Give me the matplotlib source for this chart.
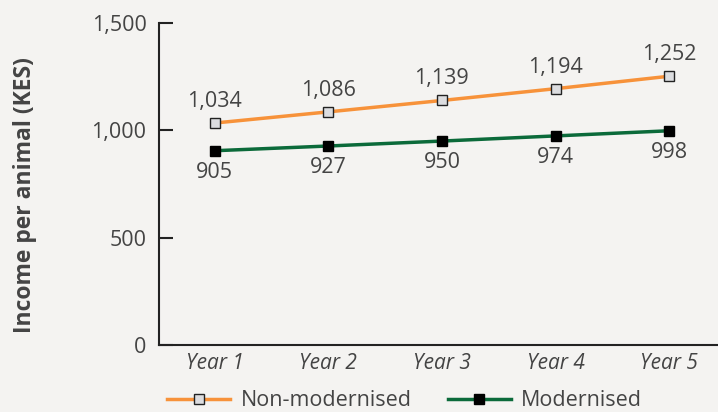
import matplotlib.pyplot as plt
from matplotlib.ticker import FuncFormatter

years = ["Year 1", "Year 2", "Year 3", "Year 4", "Year 5"]
non_modernised = [1034, 1086, 1139, 1194, 1252]
modernised = [905, 927, 950, 974, 998]

bg = "#f4f3f1"
txt = "#444444"
orange = "#f7923a"
green = "#0b6a3a"

plt.rcParams['font.family'] = ['Open Sans', 'DejaVu Sans']

fig = plt.figure(figsize=(7.18, 4.12), dpi=100, facecolor=bg)
ax = fig.add_axes([159 / 718, 1 - 345 / 412, 1 - 159 / 718, 322 / 412])
ax.set_facecolor(bg)

x = list(range(len(years)))
ax.plot(x, non_modernised, '-s', color=orange, lw=2.5, ms=7,
        mfc="#dcdde0", mec="#222222", mew=1, label="Non-modernised", zorder=3)
ax.plot(x, modernised, '-s', color=green, lw=2.5, ms=7,
        mfc="black", mec="black", label="Modernised", zorder=3)

for xi, v in zip(x, non_modernised):
    ax.annotate(f"{v:,}", (xi, v), xytext=(0, 8), textcoords="offset points",
                ha="center", va="bottom", fontsize=15.5, color=txt)
for xi, v in zip(x, modernised):
    ax.annotate(f"{v:,}", (xi, v), xytext=(0, -8), textcoords="offset points",
                ha="center", va="top", fontsize=15.5, color=txt)

ax.set_xlim(-0.49, 4.43)
ax.set_ylim(0, 1500)
ax.set_yticks([0, 500, 1000, 1500])
ax.yaxis.set_major_formatter(FuncFormatter(lambda v, p: f"{int(v):,}"))
ax.set_xticks(x)
ax.set_xticklabels(years, fontstyle="italic")

ax.spines['top'].set_visible(False)
ax.spines['right'].set_visible(False)
for s in ['left', 'bottom']:
    ax.spines[s].set_color("#222222")
    ax.spines[s].set_linewidth(1.5)
ax.tick_params(axis='y', direction='in', length=10, width=1.5, color="#222222",
               labelsize=15.5, labelcolor=txt, pad=9)
ax.tick_params(axis='x', length=0, labelsize=15, labelcolor=txt, pad=6)

ax.set_ylabel("Income per animal (KES)", fontsize=16.5, fontweight="bold",
              color=txt, va="center")
ax.yaxis.set_label_coords(-0.24, 0.465)

fig.legend(loc="lower left", bbox_to_anchor=(148 / 718, -0.045), ncol=2,
           frameon=False, fontsize=15.5, labelcolor=txt, handlelength=2.9,
           columnspacing=1.7, handletextpad=0.5)

fig.savefig("out.png", dpi=100, facecolor=bg)
